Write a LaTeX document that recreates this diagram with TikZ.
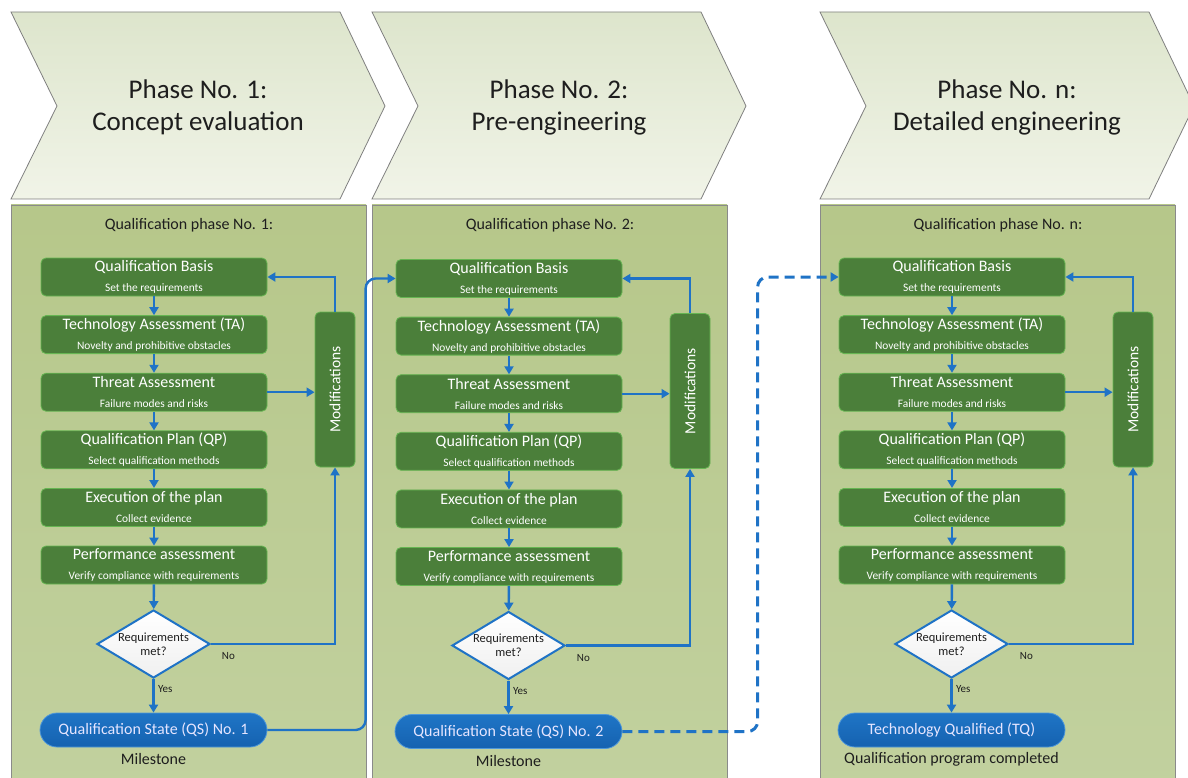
\documentclass[tikz,border=0pt]{standalone}
\usepackage{fontspec}
\setmainfont{Carlito}
\usetikzlibrary{shapes.geometric}
\usetikzlibrary{positioning}
\usetikzlibrary{arrows.meta}

\definecolor{chevtop}{HTML}{DDE5CC}
\definecolor{chevbottom}{HTML}{F1F4E8}
\definecolor{chevedge}{HTML}{7F7F7F}
\definecolor{paneltop}{HTML}{B6C78A}
\definecolor{panelbottom}{HTML}{C2D19F}
\definecolor{paneledge}{HTML}{8A8A8A}
\definecolor{boxgreen}{HTML}{4B7F3A}
\definecolor{boxedge}{HTML}{66B552}
\definecolor{flowblue}{HTML}{1F73C6}
\definecolor{statetop}{HTML}{1F75C6}
\definecolor{statebottom}{HTML}{1562B0}
\definecolor{stateedge}{HTML}{4D97DA}
\definecolor{darktext}{HTML}{1E1E1E}

\tikzset{
	chevron/.style={draw=chevedge, line width=0.8pt, top color=chevtop, bottom color=chevbottom},
	phasetext/.style={align=center, text=darktext, font=\fontsize{27}{32}\selectfont},
	panel/.style={draw=paneledge, line width=0.8pt, top color=paneltop, bottom color=panelbottom},
	paneltext/.style={text=darktext, font=\fontsize{16}{18}\selectfont},
	qualbox/.style={rectangle, rounded corners=5pt, draw=boxedge, line width=0.8pt, fill=boxgreen,
		text=white, align=center, minimum width=226pt, minimum height=38pt, inner sep=0pt,
		font=\fontsize{11.4}{20}\selectfont},
	modbox/.style={rectangle, rounded corners=5pt, draw=boxedge, line width=0.8pt, fill=boxgreen,
		text=white, minimum width=40pt, minimum height=155pt, inner sep=0pt,
		font=\fontsize{15.5}{18}\selectfont},
	decision/.style={diamond, draw=flowblue, line width=2pt, top color=white, bottom color=gray!12,
		align=center, text=darktext, inner sep=0pt, shape aspect=1.66,
		minimum width=113pt, minimum height=68pt, font=\fontsize{12.5}{14}\selectfont},
	statebox/.style={rectangle, rounded corners=17pt, draw=stateedge, line width=0.8pt,
		top color=statetop, bottom color=statebottom, text=white!90!blue,
		minimum width=227pt, minimum height=34pt, inner sep=0pt, font=\fontsize{16}{18}\selectfont},
	notetext/.style={text=darktext, font=\fontsize{16}{18}\selectfont},
	answer/.style={text=darktext, font=\fontsize{11}{13}\selectfont},
	flow/.style={draw=flowblue, line width=2.4pt, -{Triangle[length=8pt, width=9pt]}},
	flowdashed/.style={flow, line width=3pt, dash pattern=on 10pt off 6pt},
}
\newcommand{\boxtext}[2]{{\fontsize{16}{20}\selectfont #1}\\#2}

\begin{document}
\begin{tikzpicture}[x=1pt, y=-1pt, node distance=18.8pt]
	\useasboundingbox (0,0) rectangle (1188,778);
\foreach \c/\dx/\dy/\px/\stage/\state/\note in {
	1/0/0/0/Concept evaluation/{Qualification State (QS) No. 1}/Milestone,
	2/355/1.5/361/Pre-engineering/{Qualification State (QS) No. 2}/Milestone,
	n/798/0/809/Detailed engineering/{Technology Qualified (TQ)}/{Qualification program completed}}
{
	% phase chevron and panel
	\begin{scope}[shift={(\px,0)}]
		\draw[chevron] (11,12) -- (340,12) -- (385,106) -- (340,199) -- (11,199) -- (57,106) -- cycle;
		\node[phasetext] (ph\c) at (198,107.5) {Phase No. \c:\\\stage};
		\draw[panel] (11,205) rectangle (366,800);
		\node[paneltext] (pt\c) at (189,225) {Qualification phase No. \c:};
	\end{scope}
	% qualification steps
	\begin{scope}[shift={(\dx,\dy)}]
		\node[qualbox] (qb\c) at (154,277) {\boxtext{Qualification Basis}{Set the requirements}};
		\node[qualbox, below=of qb\c] (ta\c) {\boxtext{Technology Assessment (TA)}{Novelty and prohibitive obstacles}};
		\node[qualbox, below=of ta\c] (th\c) {\boxtext{Threat Assessment}{Failure modes and risks}};
		\node[qualbox, below=of th\c] (qp\c) {\boxtext{Qualification Plan (QP)}{Select qualification methods}};
		\node[qualbox, below=of qp\c] (ex\c) {\boxtext{Execution of the plan}{Collect evidence}};
		\node[qualbox, below=of ex\c] (pa\c) {\boxtext{Performance assessment}{Verify compliance with requirements}};
		\node[decision] (req\c) at (153.5,644) {Requirements\\met?};
		\node[statebox] (qs\c) at (153.5,730) {\state};
		\node[notetext] (ms\c) at (153.5,759) {\note};
		\node[modbox] (mod\c) at (335,389.5) {\rotatebox{90}{Modifications}};
	\end{scope}
	\foreach \a/\b in {qb/ta, ta/th, th/qp, qp/ex, ex/pa, pa/req}
		\draw[flow] (\a\c) -- (\b\c);
	\draw[flow] (req\c) -- node[answer, right, pos=0.3] {Yes} (qs\c);
	\draw[flow] (req\c.east) -| node[answer, pos=0.07, below=4pt] {No} (mod\c.south);
	\draw[flow] (th\c.east) -- (th\c.east -| mod\c.west);
	\draw[flow] (mod\c.north) |- (qb\c.east);
}
	% links between phases
	\draw[flow, rounded corners=10pt] (qs1.east) -| ([xshift=-30pt]qb2.west) -- (qb2.west);
	\draw[flowdashed, rounded corners=10pt] (qs2.east) -| ([xshift=-81pt]qbn.west) -- (qbn.west);
\end{tikzpicture}
\end{document}
